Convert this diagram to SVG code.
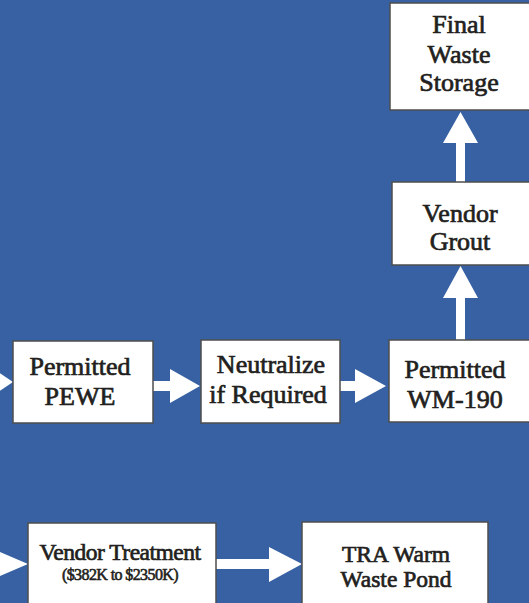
<svg xmlns="http://www.w3.org/2000/svg" width="529" height="603" viewBox="0 0 529 603">
<style>
.bx{fill:#fff;stroke:#4d4d4d;stroke-width:1.5}
.t{font-family:"Liberation Serif","Times New Roman",serif;font-size:26px;fill:#231f20;stroke:#231f20;stroke-width:0.7;text-anchor:middle}
.s{font-size:16px;stroke-width:0.6}
.m{font-size:23.5px}
.ar{fill:#fff}
</style>
<rect width="529" height="603" fill="#3761a3"/>
<g id="connectors">
<polygon class="ar" points="-12,365 13,382 -12,399"/>
<polygon class="ar" points="153,381 170,381 170,369 200,386 170,403 170,391 153,391"/>
<polygon class="ar" points="340,381 355,381 355,369 386,386 355,403 355,391 340,391"/>
<polygon class="ar" points="456,340 456,298 443,298 460.5,266 478,298 465,298 465,340"/>
<polygon class="ar" points="456,182 456,143 443,143 460.5,112 478,143 465,143 465,182"/>
<polygon class="ar" points="-12,547 28,564 -12,581"/>
<polygon class="ar" points="216,559 269,559 269,547 302,564 269,582 269,569 216,569"/>
</g>
<g id="final-waste-storage">
<rect class="bx" x="390" y="3" width="145" height="107"/>
<text class="t" x="459" y="33">Final</text>
<text class="t" x="459" y="63">Waste</text>
<text class="t" x="459" y="91">Storage</text>
</g>
<g id="vendor-grout">
<rect class="bx" x="392" y="182" width="145" height="83"/>
<text class="t" x="460" y="222">Vendor</text>
<text class="t" x="460" y="250">Grout</text>
</g>
<g id="permitted-pewe">
<rect class="bx" x="13" y="341" width="140" height="82"/>
<text class="t" x="80" y="375">Permitted</text>
<text class="t" x="80" y="405">PEWE</text>
</g>
<g id="neutralize">
<rect class="bx" x="201" y="340" width="139" height="83"/>
<text class="t" x="271" y="373">Neutralize</text>
<text class="t" x="268" y="403">if Required</text>
</g>
<g id="permitted-wm190">
<rect class="bx" x="389" y="340" width="145" height="82"/>
<text class="t" x="455" y="378">Permitted</text>
<text class="t" x="455" y="408">WM-190</text>
</g>
<g id="vendor-treatment">
<rect class="bx" x="28" y="523" width="188" height="90"/>
<text class="t m" x="120" y="560" letter-spacing="-0.5">Vendor Treatment</text>
<text class="t s" x="120" y="580" letter-spacing="-0.6">($382K to $2350K)</text>
</g>
<g id="tra-warm-waste-pond">
<rect class="bx" x="302" y="522" width="186" height="90"/>
<text class="t m" x="396" y="562">TRA Warm</text>
<text class="t m" x="396" y="587">Waste Pond</text>
</g>
</svg>
